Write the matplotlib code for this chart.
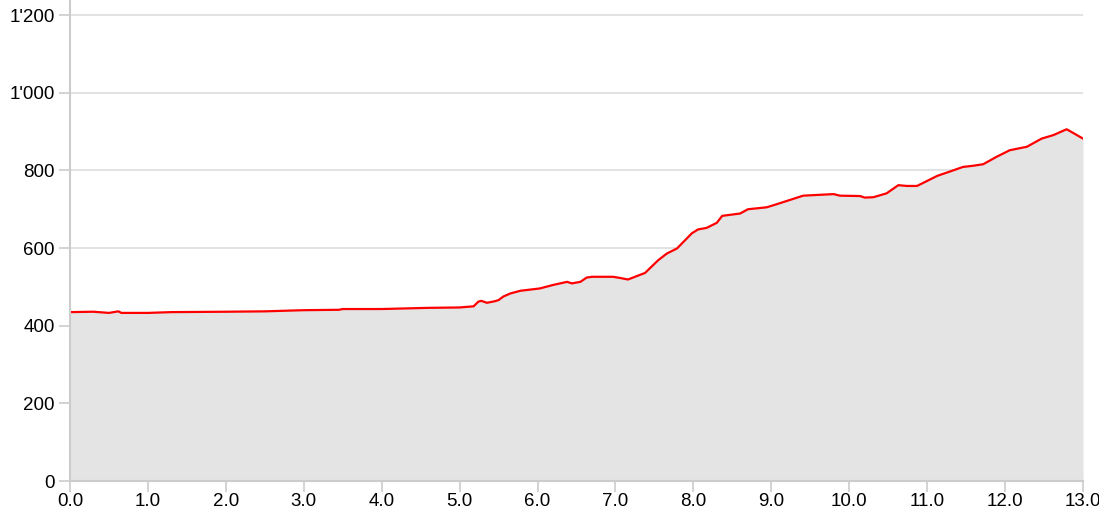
import matplotlib
matplotlib.use("Agg")
import matplotlib.pyplot as plt
from matplotlib.ticker import FuncFormatter

distance_km = [0.0, 0.3, 0.5, 0.62, 0.66, 1.0, 1.3, 2.0, 2.5, 3.0, 3.45, 3.5, 4.0, 4.6, 5.0,
               5.18, 5.24, 5.28, 5.35, 5.45, 5.5, 5.56, 5.65, 5.78, 6.03, 6.2, 6.38, 6.44,
               6.55, 6.63, 6.7, 6.97, 7.06, 7.16, 7.38, 7.55, 7.66, 7.79, 7.98, 8.06, 8.17,
               8.30, 8.37, 8.60, 8.70, 8.94, 9.07, 9.41, 9.80, 9.88, 10.14, 10.2, 10.31,
               10.48, 10.63, 10.74, 10.87, 11.0, 11.13, 11.29, 11.46, 11.59, 11.72, 11.89,
               12.06, 12.28, 12.47, 12.62, 12.79, 12.87, 13.0]
elevation_m = [435, 436, 433, 437, 433, 433, 435, 436, 437, 440, 441, 443, 443, 446, 447,
               450, 462, 464, 459, 463, 466, 475, 483, 490, 496, 505, 513, 509,
               513, 524, 526, 526, 523, 519, 536, 569, 586, 599, 638, 648, 652,
               665, 683, 689, 700, 705, 713, 735, 739, 735, 734, 730, 731,
               741, 762, 760, 760, 773, 786, 797, 809, 812, 816, 835,
               852, 861, 882, 891, 906, 897, 882]

x_ticks = [float(i) for i in range(14)]
y_ticks = [0, 200, 400, 600, 800, 1000, 1200]

plt.rcParams['font.family'] = ['Liberation Sans', 'DejaVu Sans']

fig = plt.figure(figsize=(10.99, 5.18), dpi=100)
ax = fig.add_axes([70/1099, 37/518, 1013/1099, 481/518])

ax.fill_between(distance_km, elevation_m, 0, color='#e4e4e4', lw=0, zorder=1)
ax.plot(distance_km, elevation_m, color='#ff0000', lw=1.6, zorder=3)

ax.set_xlim(0, 13)
ax.set_ylim(0, 1239)
ax.set_xticks(x_ticks)
ax.set_yticks(y_ticks)
ax.xaxis.set_major_formatter(FuncFormatter(lambda v, p: f"{v:.1f}"))
ax.yaxis.set_major_formatter(FuncFormatter(lambda v, p: f"{int(v):,}".replace(",", "'")))

ax.grid(axis='y', color='#dddddd', lw=1.2, zorder=0)
ax.set_axisbelow(True)
for s in ['top', 'right']:
    ax.spines[s].set_visible(False)
for s in ['left', 'bottom']:
    ax.spines[s].set_color('#cccccc')
    ax.spines[s].set_linewidth(1.5)
    ax.spines[s].set_zorder(4)
ax.tick_params(axis='both', colors='#cccccc', length=8, width=1.2, labelsize=13.5,
               labelcolor='black')
ax.tick_params(axis='y', pad=3)
ax.tick_params(axis='x', pad=1)

fig.savefig('out.png', dpi=100)
